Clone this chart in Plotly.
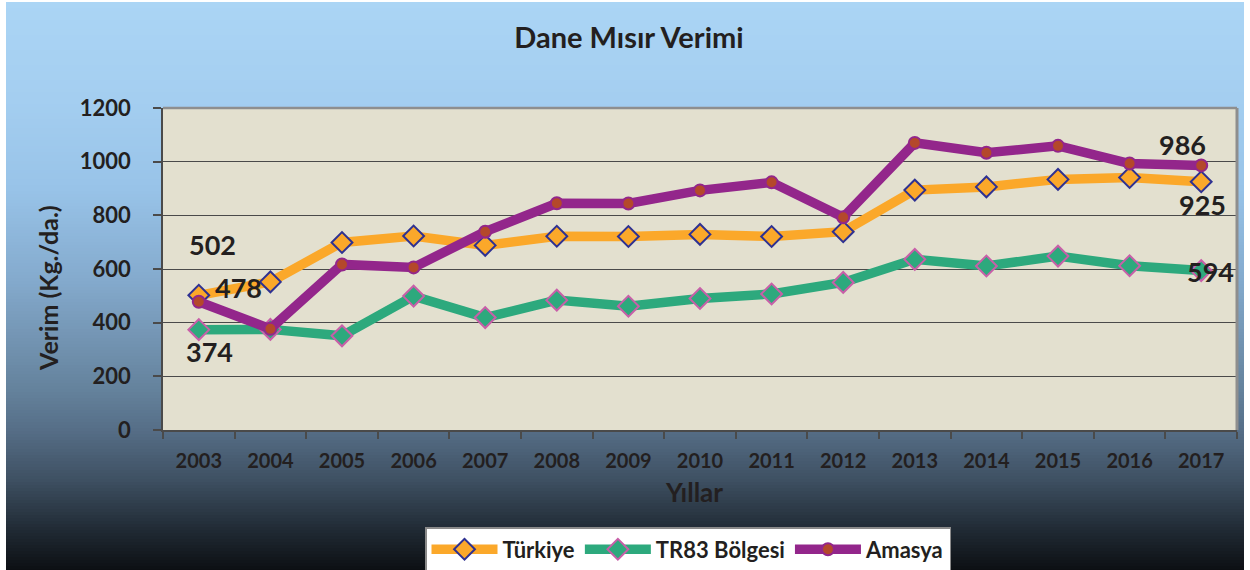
import plotly.graph_objects as go

years = [str(y) for y in range(2003, 2018)]
turkiye = [502, 552, 699, 723, 688, 722, 721, 729, 721, 739, 894, 906, 934, 941, 925]
tr83 = [374, 375, 351, 499, 419, 484, 461, 490, 507, 550, 636, 611, 648, 612, 594]
amasya = [478, 377, 617, 606, 739, 845, 844, 893, 923, 793, 1070, 1033, 1059, 993, 986]

title_text = "Dane Mısır Verimi"
x_title = "Yıllar"
y_title = "Verim (Kg./da.)"
series_names = ["Türkiye", "TR83 Bölgesi", "Amasya"]

W, H = 1250, 570
ML, MR, MT, MB = 163, 13, 108, 140
PW, PH = W - ML - MR, H - MT - MB

FONT = "Lato"
TXT = "#231F20"

def fx(px):
    return (px - ML) / PW

def fy(py):
    return (H - MB - py) / PH

# background gradient stops (pixel y from top, rgb)
stops = [(0, (171, 213, 245)), (100, (164, 206, 240)), (190, (152, 195, 232)),
         (280, (132, 170, 205)), (340, (115, 148, 178)), (390, (100, 130, 156)),
         (430, (86, 110, 135)), (480, (62, 80, 98)), (530, (32, 42, 52)),
         (570, (12, 15, 19))]

def col_at(y):
    for (y0, c0), (y1, c1) in zip(stops[:-1], stops[1:]):
        if y0 <= y <= y1:
            t = (y - y0) / (y1 - y0)
            return tuple(round(a + (b - a) * t) for a, b in zip(c0, c1))
    return stops[-1][1]

shapes = []
step = 3
y = 2
while y < H:
    c = col_at(y + step / 2)
    shapes.append(dict(type="rect", xref="paper", yref="paper",
                       x0=fx(6), x1=fx(1244),
                       y0=fy(y + step + 0.5), y1=fy(y),
                       fillcolor="rgb(%d,%d,%d)" % c, line=dict(width=0),
                       layer="below"))
    y += step

# plot area
shapes.append(dict(type="rect", xref="x domain", yref="y domain", x0=0, x1=1, y0=0, y1=1,
                   fillcolor="#E3E0CF", line=dict(width=0), layer="below"))
# top/right border
shapes.append(dict(type="line", xref="x domain", yref="y domain", x0=0, x1=1, y0=1, y1=1,
                   line=dict(color="#8E8E8E", width=2.5), layer="above"))
shapes.append(dict(type="line", xref="x domain", yref="y domain", x0=1, x1=1, y0=0, y1=1,
                   line=dict(color="#8E8E8E", width=3), layer="above"))

fig = go.Figure()
fig.add_trace(go.Scatter(x=years, y=turkiye, name=series_names[0], mode="lines+markers",
                         line=dict(color="#FBA82A", width=9.5),
                         marker=dict(symbol="diamond", size=16, color="#FBA82A",
                                     line=dict(color="#2E3192", width=2))))
fig.add_trace(go.Scatter(x=years, y=tr83, name=series_names[1], mode="lines+markers",
                         line=dict(color="#2DA97D", width=9.5),
                         marker=dict(symbol="diamond", size=16, color="#2DA97D",
                                     line=dict(color="#C85FA8", width=2))))
fig.add_trace(go.Scatter(x=years, y=amasya, name=series_names[2], mode="lines+markers",
                         line=dict(color="#93268B", width=9.5),
                         marker=dict(symbol="circle", size=12, color="#B4482B",
                                     line=dict(color="#93268B", width=2))))

lab_font = dict(family=FONT, size=27, color=TXT, weight="bold")
first, last = 0, len(years) - 1
annotations = [
    dict(x=first, y=turkiye[first], text=str(turkiye[first]), xshift=14, yshift=51),
    dict(x=first, y=amasya[first], text=str(amasya[first]), xshift=40, yshift=14),
    dict(x=first, y=tr83[first], text=str(tr83[first]), xshift=11, yshift=-22),
    dict(x=last, y=amasya[last], text=str(amasya[last]), xshift=-19, yshift=21),
    dict(x=last, y=turkiye[last], text=str(turkiye[last]), xshift=1, yshift=-23),
    dict(x=last, y=tr83[last], text=str(tr83[last]), xshift=9, yshift=-1),
]
for a in annotations:
    a.update(xref="x", yref="y", showarrow=False, font=lab_font)

annotations.append(dict(xref="paper", yref="paper", x=fx(48), y=fy(288),
                        xanchor="center", yanchor="middle",
                        text=y_title, textangle=-90, showarrow=False,
                        font=dict(family=FONT, size=25, color=TXT, weight="bold")))
annotations.append(dict(xref="paper", yref="paper", x=fx(694), y=fy(492),
                        xanchor="center", yanchor="middle",
                        text=x_title, showarrow=False,
                        font=dict(family=FONT, size=26, color=TXT, weight="bold")))

fig.update_layout(
    width=W, height=H, autosize=False,
    margin=dict(l=ML, r=MR, t=MT, b=MB, pad=0),
    paper_bgcolor="white", plot_bgcolor="rgba(0,0,0,0)",
    title=dict(text=title_text, x=629 / W, xref="container", xanchor="center",
               y=1 - 38 / H, yref="container", yanchor="middle",
               font=dict(family=FONT, size=29, color=TXT, weight="bold")),
    shapes=shapes,
    annotations=annotations,
    showlegend=True,
    legend=dict(orientation="h", xref="container", yref="container",
                x=688 / W, xanchor="center", y=1 - 527 / H, yanchor="top",
                bgcolor="white", bordercolor="#8A8A8A", borderwidth=1.5,
                font=dict(family=FONT, size=22, color=TXT, weight="bold"),
                itemwidth=66, traceorder="normal"),
    xaxis=dict(type="category", range=[-0.5, 14.5], showgrid=False, zeroline=False,
               showline=True, linecolor="#4A4A4A", linewidth=1.5,
               ticks="outside", ticklen=7, tickcolor="#4A4A4A", tickwidth=1.5,
               tickson="boundaries", automargin=False, ticklabelstandoff=12,
               tickfont=dict(family=FONT, size=20, color=TXT, weight="bold")),
    yaxis=dict(range=[0, 1200], dtick=200, tick0=0, showgrid=True,
               gridcolor="#4A4A4A", gridwidth=1.3, zeroline=False,
               showline=True, linecolor="#4A4A4A", linewidth=1.5,
               ticks="outside", ticklen=8, tickcolor="#4A4A4A", tickwidth=1.5,
               automargin=False, ticklabelstandoff=18,
               tickfont=dict(family=FONT, size=22, color=TXT, weight="bold")),
)

fig.write_html("out.html", config={"displayModeBar": False},
               post_script="document.body.style.margin='0';document.body.style.overflow='hidden';")
